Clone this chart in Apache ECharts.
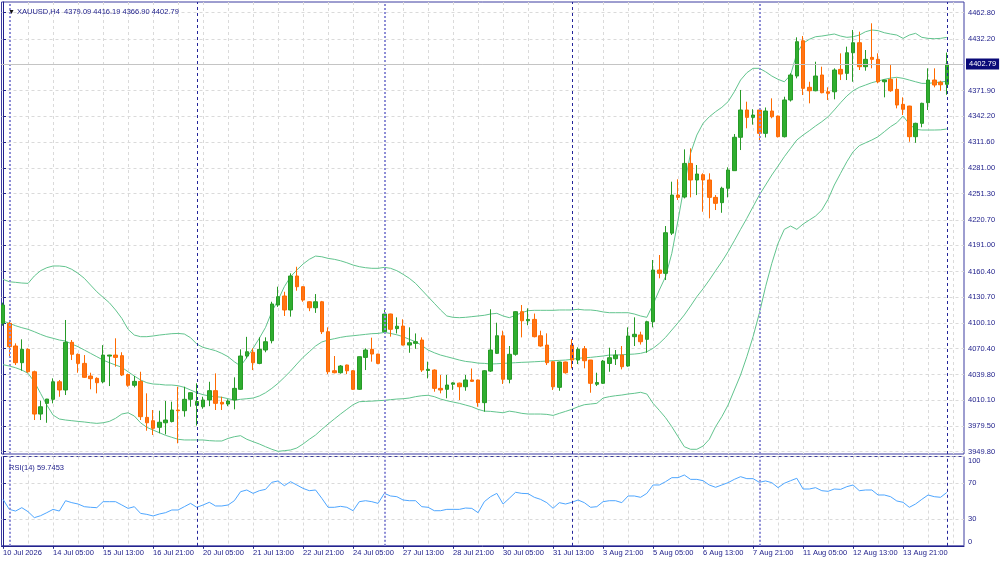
<!DOCTYPE html>
<html>
<head>
<meta charset="utf-8">
<title>XAUUSD,H4</title>
<script src="https://cdn.jsdelivr.net/npm/echarts@6/dist/echarts.min.js"></script>
<style>
  html, body { margin: 0; padding: 0; background: #fff; }
  #chart { width: 1000px; height: 563px; }
</style>
</head>
<body>
<div id="chart"></div>
<script>
// H4 bars, 10 Jul 2026 21:00 .. 17 Aug 2026 01:00 (index 0..151)
const opens = [
  4099.8, 4099.8, 4073.3, 4053.8, 4069.4, 4043.2, 3993.8, 4006.3, 4011.0, 4031.5,
  4021.9, 4077.6, 4063.6, 4053.0, 4038.2, 4035.5, 4031.5, 4061.5, 4062.7, 4062.0,
  4040.0, 4027.4, 4032.0, 3989.9, 3986.0, 3978.3, 3983.6, 3985.0, 3998.5, 3997.7,
  4011.0, 4004.0, 4002.3, 4010.2, 4021.1, 4007.5, 4005.5, 4010.2, 4022.7, 4061.6,
  4065.9, 4053.0, 4068.6, 4079.5, 4121.2, 4131.7, 4115.4, 4155.1, 4142.6, 4125.0,
  4118.0, 4125.0, 4090.0, 4044.4, 4042.1, 4051.1, 4044.4, 4022.7, 4060.0, 4069.4,
  4063.9, 4090.0, 4110.7, 4093.6, 4096.6, 4074.4, 4076.4, 4080.3, 4044.7, 4045.2,
  4023.8, 4022.7, 4028.6, 4029.9, 4025.7, 4033.6, 4033.6, 4007.1, 4044.0, 4064.7,
  4085.3, 4034.4, 4063.6, 4113.4, 4102.8, 4104.4, 4085.3, 4074.4, 4054.9, 4025.0,
  4054.6, 4074.4, 4056.9, 4070.1, 4056.9, 4028.6, 4029.7, 4052.9, 4058.4, 4062.7,
  4049.9, 4084.2, 4086.2, 4081.1, 4101.7, 4162.1, 4158.2, 4205.2, 4249.7, 4247.4,
  4286.7, 4267.3, 4273.5, 4267.3, 4247.0, 4240.8, 4257.6, 4278.2, 4317.2, 4349.1,
  4340.5, 4349.1, 4321.8, 4347.9, 4342.0, 4317.9, 4360.8, 4388.8, 4430.0, 4375.6,
  4371.6, 4390.0, 4370.4, 4370.4, 4396.6, 4391.9, 4416.0, 4427.7, 4399.7, 4410.6,
  4408.3, 4382.1, 4384.9, 4373.2, 4355.7, 4353.7, 4317.9, 4333.5, 4357.6, 4384.1,
  4381.5, 4379.09
];
const highs = [
  4124.0, 4103.7, 4076.4, 4081.1, 4070.5, 4044.5, 4009.4, 4011.5, 4035.5, 4033.6,
  4103.7, 4080.3, 4064.5, 4062.7, 4042.1, 4036.7, 4074.3, 4063.0, 4082.3, 4066.0,
  4041.0, 4038.2, 4043.2, 4018.0, 3998.5, 3997.7, 4009.0, 4008.2, 4025.7, 4025.7,
  4019.0, 4029.7, 4014.0, 4031.5, 4041.3, 4014.0, 4011.0, 4036.7, 4069.4, 4084.0,
  4070.6, 4083.4, 4083.4, 4125.0, 4142.6, 4136.7, 4158.2, 4165.9, 4143.0, 4125.5,
  4134.0, 4126.0, 4095.1, 4061.6, 4051.0, 4051.5, 4045.0, 4061.0, 4070.6, 4083.0,
  4064.0, 4117.3, 4111.0, 4106.8, 4104.5, 4095.1, 4088.0, 4083.4, 4055.0, 4046.0,
  4039.4, 4039.4, 4031.0, 4030.5, 4039.4, 4047.0, 4034.0, 4045.0, 4116.2, 4100.5,
  4091.2, 4073.3, 4114.0, 4121.2, 4117.3, 4111.2, 4091.2, 4088.1, 4055.5, 4055.0,
  4055.0, 4081.1, 4071.7, 4073.3, 4057.0, 4042.1, 4057.0, 4071.3, 4068.6, 4073.3,
  4095.1, 4106.8, 4090.0, 4102.8, 4173.8, 4179.6, 4213.5, 4265.3, 4268.1, 4303.1,
  4304.3, 4284.8, 4275.1, 4275.1, 4249.7, 4259.4, 4282.1, 4321.0, 4372.5, 4358.8,
  4350.0, 4349.5, 4352.0, 4362.7, 4342.5, 4364.6, 4392.0, 4434.0, 4435.5, 4382.1,
  4405.5, 4399.7, 4375.6, 4397.8, 4415.3, 4423.1, 4442.6, 4440.6, 4419.2, 4450.4,
  4415.3, 4384.5, 4401.6, 4386.1, 4363.9, 4354.0, 4334.2, 4357.6, 4397.8, 4397.8,
  4383.3, 4416.19
];
const lows = [
  4097.0, 4060.8, 4051.1, 4044.4, 4042.0, 3986.8, 3986.8, 3983.6, 4006.3, 4014.0,
  4016.0, 4056.9, 4042.1, 4036.0, 4022.7, 4018.0, 4029.7, 4026.5, 4049.1, 4038.2,
  4025.7, 4025.0, 3986.8, 3974.3, 3969.3, 3971.3, 3970.0, 3984.0, 3959.6, 3990.7,
  4002.3, 3980.4, 4000.0, 4003.0, 3998.5, 3998.5, 4003.0, 3999.3, 4021.9, 4058.9,
  4045.2, 4052.0, 4066.0, 4076.4, 4119.0, 4108.4, 4107.6, 4137.9, 4125.0, 4114.0,
  4112.0, 4087.3, 4040.5, 4041.4, 4041.0, 4040.5, 4022.0, 4022.0, 4045.2, 4055.0,
  4052.0, 4089.0, 4084.2, 4088.0, 4074.0, 4065.4, 4070.0, 4043.0, 4035.5, 4019.9,
  4018.0, 4012.2, 4022.0, 4010.2, 4021.0, 4031.5, 4002.3, 3996.5, 4043.0, 4064.0,
  4028.9, 4029.7, 4062.0, 4083.4, 4097.6, 4083.4, 4072.5, 4051.1, 4021.9, 4021.0,
  4041.0, 4047.2, 4052.2, 4047.2, 4018.7, 4026.5, 4029.0, 4043.2, 4051.1, 4046.0,
  4049.1, 4073.3, 4075.0, 4065.4, 4095.1, 4152.4, 4150.4, 4203.0, 4243.9, 4245.8,
  4247.0, 4249.7, 4230.2, 4222.5, 4232.2, 4229.0, 4247.0, 4278.0, 4302.3, 4327.7,
  4332.0, 4312.0, 4317.0, 4339.4, 4317.0, 4317.0, 4359.0, 4386.1, 4366.6, 4356.9,
  4371.0, 4368.6, 4360.8, 4361.6, 4384.1, 4384.1, 4382.1, 4395.8, 4395.0, 4397.8,
  4380.3, 4363.9, 4370.4, 4351.0, 4343.2, 4312.0, 4310.8, 4328.9, 4349.1, 4375.6,
  4371.6, 4366.90
];
const closes = [
  4121.2, 4072.5, 4053.8, 4069.4, 4043.2, 3993.8, 4002.3, 4011.3, 4031.5, 4021.9,
  4077.6, 4063.6, 4053.0, 4036.7, 4035.1, 4030.4, 4062.7, 4062.7, 4060.0, 4039.4,
  4027.4, 4032.0, 3990.7, 3983.6, 3977.1, 3984.2, 3986.8, 3998.5, 3997.7, 4011.0,
  4018.7, 4008.4, 4010.2, 4021.1, 4006.3, 4005.5, 4009.0, 4023.8, 4061.6, 4066.6,
  4053.8, 4069.4, 4078.3, 4122.4, 4130.9, 4115.4, 4155.1, 4142.6, 4127.0, 4118.0,
  4125.0, 4090.0, 4043.2, 4042.1, 4049.9, 4044.4, 4022.7, 4060.8, 4068.6, 4063.9,
  4053.0, 4110.7, 4092.8, 4096.4, 4074.4, 4077.1, 4078.3, 4045.2, 4046.0, 4023.8,
  4021.9, 4027.7, 4030.2, 4025.7, 4033.6, 4032.0, 4007.1, 4044.4, 4068.6, 4085.3,
  4034.4, 4063.6, 4113.4, 4102.8, 4104.4, 4084.2, 4073.3, 4053.8, 4025.7, 4054.6,
  4042.1, 4056.9, 4069.4, 4056.1, 4029.7, 4030.6, 4055.7, 4059.6, 4062.7, 4049.1,
  4085.0, 4087.0, 4078.3, 4101.7, 4162.1, 4158.2, 4205.7, 4249.7, 4247.0, 4286.7,
  4267.3, 4274.3, 4267.3, 4247.0, 4240.0, 4257.6, 4279.0, 4317.2, 4349.1, 4340.5,
  4343.2, 4321.8, 4347.9, 4341.2, 4317.9, 4360.8, 4390.0, 4428.9, 4374.4, 4371.6,
  4388.8, 4369.3, 4368.6, 4395.8, 4391.1, 4416.0, 4427.7, 4399.7, 4408.3, 4408.3,
  4382.1, 4384.1, 4371.6, 4354.9, 4349.9, 4317.9, 4333.5, 4356.9, 4384.1, 4378.3,
  4378.6, 4402.79
];

// Bollinger Bands as drawn on the chart
const bbUpper = [
  4151.2, 4148.4, 4147.7, 4146.9, 4146.5, 4155.1, 4161.3, 4164.8, 4166.8, 4166.8,
  4166.0, 4162.9, 4158.2, 4152.4, 4144.5, 4136.7, 4130.2, 4123.9, 4115.4, 4105.6,
  4092.8, 4086.1, 4084.2, 4084.2, 4085.0, 4086.1, 4086.9, 4087.7, 4088.0, 4087.3,
  4083.0, 4075.6, 4071.7, 4069.8, 4067.8, 4064.7, 4060.8, 4054.9, 4049.9, 4059.9,
  4070.6, 4082.3, 4095.1, 4113.4, 4127.0, 4142.6, 4154.3, 4162.1, 4169.1, 4174.6,
  4178.4, 4177.6, 4175.7, 4174.6, 4172.9, 4170.6, 4167.9, 4166.0, 4164.8, 4164.1,
  4164.1, 4165.2, 4164.1, 4161.3, 4157.1, 4152.4, 4146.5, 4138.7, 4130.9, 4123.2,
  4115.4, 4108.4, 4106.8, 4106.4, 4106.8, 4107.6, 4108.4, 4109.2, 4110.7, 4111.5,
  4108.4, 4106.4, 4109.2, 4112.2, 4114.6, 4115.0, 4115.0, 4115.0, 4115.0, 4115.4,
  4115.4, 4115.4, 4116.2, 4115.4, 4115.4, 4114.6, 4113.1, 4112.2, 4112.2, 4112.2,
  4112.2, 4110.7, 4108.4, 4106.8, 4122.0, 4138.7, 4154.3, 4181.6, 4220.5, 4261.4,
  4298.5, 4319.8, 4333.5, 4341.2, 4347.1, 4352.2, 4358.8, 4370.4, 4384.1, 4392.6,
  4397.8, 4397.8, 4393.8, 4388.8, 4384.9, 4382.1, 4390.0, 4415.3, 4427.0, 4431.7,
  4434.7, 4435.5, 4436.7, 4437.9, 4435.5, 4434.0, 4434.7, 4436.7, 4440.6, 4442.6,
  4441.8, 4439.4, 4437.9, 4436.7, 4432.8, 4436.7, 4438.7, 4434.0, 4432.8, 4432.4,
  4432.8, 4434.0
];
const bbMiddle = [
  4102.5, 4099.8, 4097.0, 4094.7, 4092.8, 4090.0, 4086.9, 4084.2, 4082.3, 4080.3,
  4079.1, 4075.6, 4072.5, 4068.6, 4064.7, 4060.8, 4056.9, 4053.8, 4051.1, 4048.4,
  4043.2, 4038.2, 4033.6, 4030.4, 4028.9, 4028.5, 4027.7, 4027.7, 4026.9, 4025.0,
  4021.9, 4018.7, 4016.4, 4014.9, 4014.1, 4013.4, 4011.7, 4010.2, 4011.0, 4011.7,
  4012.5, 4014.9, 4018.7, 4023.8, 4029.7, 4036.7, 4044.0, 4052.2, 4060.1, 4066.6,
  4073.3, 4078.0, 4080.3, 4081.8, 4083.4, 4084.6, 4085.3, 4086.1, 4086.9, 4087.7,
  4088.0, 4089.2, 4088.0, 4086.4, 4084.2, 4081.1, 4078.3, 4074.0, 4068.6, 4065.4,
  4062.7, 4060.8, 4058.9, 4056.9, 4055.3, 4054.5, 4053.3, 4053.0, 4052.2, 4052.6,
  4053.0, 4053.4, 4053.8, 4054.2, 4054.5, 4054.9, 4055.3, 4055.7, 4056.1, 4056.5,
  4056.9, 4057.7, 4058.9, 4059.6, 4060.0, 4060.8, 4061.6, 4062.7, 4062.7, 4063.1,
  4063.5, 4063.9, 4064.7, 4066.6, 4070.6, 4076.4, 4083.4, 4092.0, 4100.5, 4109.6,
  4120.0, 4130.9, 4140.2, 4150.4, 4161.3, 4171.8, 4183.5, 4196.3, 4209.6, 4222.5,
  4236.1, 4249.7, 4261.4, 4273.1, 4283.6, 4294.5, 4304.3, 4314.0, 4319.8, 4324.9,
  4330.4, 4335.4, 4341.2, 4349.1, 4357.6, 4365.4, 4371.6, 4375.6, 4378.3, 4381.0,
  4382.9, 4384.9, 4386.4, 4387.3, 4386.1, 4384.1, 4382.1, 4380.2, 4380.2, 4381.0,
  4381.8, 4382.6
];
const bbLower = [
  4051.5, 4049.9, 4047.9, 4045.2, 4041.4, 4031.5, 4018.0, 4004.3, 3992.6, 3988.0,
  3986.8, 3986.0, 3985.2, 3984.5, 3983.6, 3982.9, 3983.6, 3985.2, 3988.8, 3993.8,
  3995.3, 3991.5, 3983.6, 3978.2, 3975.1, 3972.0, 3968.9, 3966.6, 3964.3, 3963.5,
  3963.5, 3963.5, 3963.5, 3962.7, 3962.3, 3962.3, 3965.3, 3967.3, 3968.5, 3964.3,
  3961.5, 3958.8, 3955.6, 3952.6, 3950.2, 3951.0, 3951.8, 3954.1, 3958.8, 3964.3,
  3969.3, 3975.9, 3982.1, 3988.0, 3993.8, 3999.3, 4004.7, 4008.2, 4008.6, 4008.9,
  4009.4, 4009.8, 4010.6, 4011.3, 4011.7, 4012.5, 4014.1, 4015.2, 4015.7, 4014.1,
  4011.3, 4009.4, 4007.8, 4006.3, 4004.3, 4002.3, 3999.3, 3997.2, 3996.9, 3996.1,
  3995.3, 3997.2, 3996.1, 3994.6, 3993.8, 3993.8, 3993.8, 3993.4, 3992.2, 3994.6,
  3996.9, 3999.3, 4002.3, 4004.7, 4005.5, 4006.3, 4012.5, 4014.1, 4015.2, 4016.0,
  4017.2, 4018.0, 4019.2, 4017.2, 4006.3, 3998.1, 3989.5, 3979.0, 3967.3, 3955.6,
  3952.6, 3952.6, 3956.4, 3964.3, 3979.0, 3990.7, 4004.3, 4021.9, 4039.4, 4060.8,
  4084.2, 4111.5, 4142.6, 4169.9, 4193.3, 4209.6, 4213.5, 4209.6, 4215.8, 4220.5,
  4225.2, 4232.2, 4244.7, 4261.4, 4275.1, 4288.6, 4300.3, 4307.4, 4310.8, 4314.0,
  4317.9, 4323.7, 4329.6, 4334.2, 4342.0, 4332.7, 4326.5, 4325.7, 4325.7, 4325.7,
  4325.9, 4326.9
];

// RSI(14)
const rsi = [
  52.0, 40.8, 38.9, 42.7, 38.2, 31.5, 33.7, 37.1, 40.8, 38.9,
  50.5, 48.3, 46.8, 43.8, 43.1, 42.7, 49.4, 49.4, 49.4, 45.7,
  41.9, 43.8, 36.3, 35.2, 33.4, 35.6, 37.1, 40.1, 40.1, 43.8,
  47.5, 43.1, 45.7, 48.7, 44.6, 44.6, 45.7, 50.5, 60.6, 62.5,
  58.7, 61.7, 63.2, 71.1, 72.6, 67.3, 71.8, 68.1, 64.3, 61.7,
  62.5, 53.2, 43.1, 43.1, 44.2, 43.1, 39.3, 49.4, 50.5, 49.4,
  47.5, 58.7, 55.8, 55.0, 51.3, 50.5, 50.5, 43.8, 43.1, 39.3,
  39.3, 40.8, 40.8, 40.8, 42.3, 41.9, 37.1, 49.4, 55.0, 58.7,
  46.8, 53.2, 59.9, 58.7, 58.4, 54.3, 52.0, 48.3, 42.0, 48.3,
  46.8, 48.7, 51.3, 48.3, 43.1, 43.8, 49.4, 50.5, 50.5, 48.3,
  55.8, 55.8, 54.3, 58.7, 68.1, 68.1, 71.8, 76.3, 76.3, 79.3,
  74.4, 74.4, 72.9, 68.1, 65.5, 68.1, 70.7, 74.4, 77.4, 75.2,
  75.2, 71.1, 72.6, 70.7, 65.1, 70.0, 72.9, 75.6, 63.6, 63.6,
  65.1, 61.7, 61.0, 63.6, 63.2, 66.2, 68.1, 61.7, 62.5, 62.5,
  56.9, 56.9, 55.0, 50.2, 48.7, 43.1, 46.8, 52.0, 56.9, 55.0,
  54.3, 59.7453
];

// time axis labels, one every 8 bars starting at bar 0
const tickLabels = [
  '10 Jul 2026', '14 Jul 05:00', '15 Jul 13:00', '16 Jul 21:00', '20 Jul 05:00',
  '21 Jul 13:00', '22 Jul 21:00', '24 Jul 05:00', '27 Jul 13:00', '28 Jul 21:00',
  '30 Jul 05:00', '31 Jul 13:00', '3 Aug 21:00', '5 Aug 05:00', '6 Aug 13:00',
  '7 Aug 21:00', '11 Aug 05:00', '12 Aug 13:00', '13 Aug 21:00'
];
const priceTicks = [
  3949.8, 3979.5, 4010.1, 4039.8, 4070.4, 4100.1, 4130.7, 4160.4, 4191.0,
  4220.7, 4251.3, 4281.0, 4311.6, 4342.2, 4371.9, 4402.5, 4432.2, 4462.8
];
const rsiTicks = [0, 30, 70, 100];
const weekStarts = [1, 31, 61, 91, 121, 151];
const lastPrice = 4402.79;
const symbolLine = 'XAUUSD,H4  4379.09 4416.19 4366.90 4402.79';
const rsiTitle = 'RSI(14) 59.7453';

const NAVY = '#22228c';
const GRIDC = '#dadada';
const FONT = 'Liberation Sans, Arial, sans-serif';
const FS = 7.5;

const candleData = opens.map((o, i) => [i, o, closes[i], lows[i], highs[i]]);
const withIdx = arr => arr.map((v, i) => [i, v]);
const gridIdx = [];
for (let i = 0; i <= 152; i += 4) gridIdx.push(i);
const labelIdx = tickLabels.map((_, k) => k * 8);

const sepLines = weekStarts.map((w, k) => ({
  xAxis: w,
  lineStyle: k % 2 === 0
    ? { color: '#8e8ed6', width: 2, type: [2, 2] }
    : { color: '#24249a', width: 1, type: [3, 3] }
}));

const chart = echarts.init(document.getElementById('chart'), null, { renderer: 'canvas' });

const X_MIN = -0.25, X_MAX = 153.75;
const xCommon = {
  type: 'value', min: X_MIN, max: X_MAX,
  axisLine: { show: false },
  axisLabel: { show: false },
  axisTick: { show: false, customValues: gridIdx },
  splitLine: { show: true, lineStyle: { color: GRIDC, type: [3, 3], width: 1 } }
};

chart.setOption({
  animation: false,
  backgroundColor: '#ffffff',
  title: [
    {
      left: 3, top: 3,
      text: '{t|▼} ' + symbolLine,
      textStyle: {
        fontSize: FS, fontWeight: 'normal', color: NAVY, fontFamily: FONT,
        rich: { t: { fontSize: 7, color: '#111' } }
      }
    },
    {
      left: 4, top: 459,
      text: rsiTitle,
      textStyle: { fontSize: FS, fontWeight: 'normal', color: NAVY, fontFamily: FONT }
    }
  ],
  grid: [
    { left: 1.5, right: 36, top: 2, height: 452, show: true, borderColor: '#3c3ca0', borderWidth: 1, outerBoundsMode: 'none' },
    { left: 1.5, right: 36, top: 456.5, height: 89.3, show: true, borderColor: '#3c3ca0', borderWidth: 1, outerBoundsMode: 'none' }
  ],
  xAxis: [
    Object.assign({ gridIndex: 0 }, xCommon),
    Object.assign({ gridIndex: 1 }, xCommon),
    {
      type: 'value', gridIndex: 1, min: X_MIN, max: X_MAX, position: 'bottom',
      axisLine: { show: true, lineStyle: { color: NAVY, width: 1 } },
      axisTick: { show: true, length: 3, lineStyle: { color: NAVY }, customValues: labelIdx },
      splitLine: { show: false },
      axisLabel: {
        show: true, customValues: labelIdx, align: 'left', margin: 3,
        fontSize: FS, color: NAVY, fontFamily: FONT,
        formatter: v => tickLabels[Math.round(v / 8)] || ''
      }
    }
  ],
  yAxis: [
    {
      type: 'value', gridIndex: 0, position: 'right', min: 3947.1, max: 4475.3, scale: true,
      axisLine: { show: true, lineStyle: { color: NAVY } },
      axisTick: { show: true, length: 3, lineStyle: { color: NAVY }, customValues: priceTicks },
      splitLine: { show: true, lineStyle: { color: GRIDC, type: [3, 3], width: 1 } },
      axisLabel: {
        customValues: priceTicks.filter(v => v !== 4402.5), margin: 4,
        fontSize: FS, color: NAVY, fontFamily: FONT,
        formatter: v => v.toFixed(2)
      }
    },
    {
      type: 'value', gridIndex: 1, position: 'right', min: 0, max: 100,
      axisLine: { show: true, lineStyle: { color: NAVY } },
      axisTick: { show: true, length: 3, lineStyle: { color: NAVY }, customValues: rsiTicks },
      splitLine: { show: true, lineStyle: { color: GRIDC, type: [3, 3], width: 1 } },
      axisLabel: {
        customValues: rsiTicks, margin: 4, fontSize: FS, color: NAVY, fontFamily: FONT,
        formatter: v => v === 100 ? '{t|100}' : (v === 0 ? '{b|0}' : String(v)),
        rich: {
          t: { fontSize: FS, color: NAVY, fontFamily: FONT, padding: [9, 0, 0, 0] },
          b: { fontSize: FS, color: NAVY, fontFamily: FONT, padding: [0, 0, 8, 0] }
        }
      }
    }
  ],
  series: [
    {
      name: 'BB upper', type: 'line', xAxisIndex: 0, yAxisIndex: 0,
      data: withIdx(bbUpper), showSymbol: false,
      lineStyle: { color: '#62c48e', width: 1 }, z: 2
    },
    {
      name: 'BB middle', type: 'line', xAxisIndex: 0, yAxisIndex: 0,
      data: withIdx(bbMiddle), showSymbol: false,
      lineStyle: { color: '#62c48e', width: 1 }, z: 2
    },
    {
      name: 'BB lower', type: 'line', xAxisIndex: 0, yAxisIndex: 0,
      data: withIdx(bbLower), showSymbol: false,
      lineStyle: { color: '#62c48e', width: 1 }, z: 2
    },
    {
      name: 'XAUUSD', type: 'candlestick', xAxisIndex: 0, yAxisIndex: 0,
      data: candleData,
      encode: { x: 0, y: [1, 2, 3, 4] },
      barWidth: 4,
      itemStyle: {
        color: '#2fae2f', color0: '#ff7416',
        borderColor: '#279a27', borderColor0: '#ff6a00',
        borderColorDoji: '#279a27', borderWidth: 1
      },
      z: 3,
      markLine: {
        silent: true, symbol: ['none', 'none'], animation: false,
        label: { show: false },
        data: sepLines.concat([{
          yAxis: lastPrice,
          lineStyle: { color: '#c4c4c4', width: 1, type: 'solid' },
          label: {
            show: true, position: 'end', distance: 2,
            formatter: lastPrice.toFixed(2),
            backgroundColor: '#0a0a78', color: '#ffffff',
            fontSize: FS, fontFamily: FONT, padding: [2, 3, 1, 3]
          }
        }])
      }
    },
    {
      name: 'RSI', type: 'line', xAxisIndex: 1, yAxisIndex: 1,
      data: withIdx(rsi), showSymbol: false,
      lineStyle: { color: '#4ea6ff', width: 1 }, z: 3,
      markLine: {
        silent: true, symbol: ['none', 'none'], animation: false,
        label: { show: false },
        data: sepLines
      }
    }
  ]
});
</script>
</body>
</html>
